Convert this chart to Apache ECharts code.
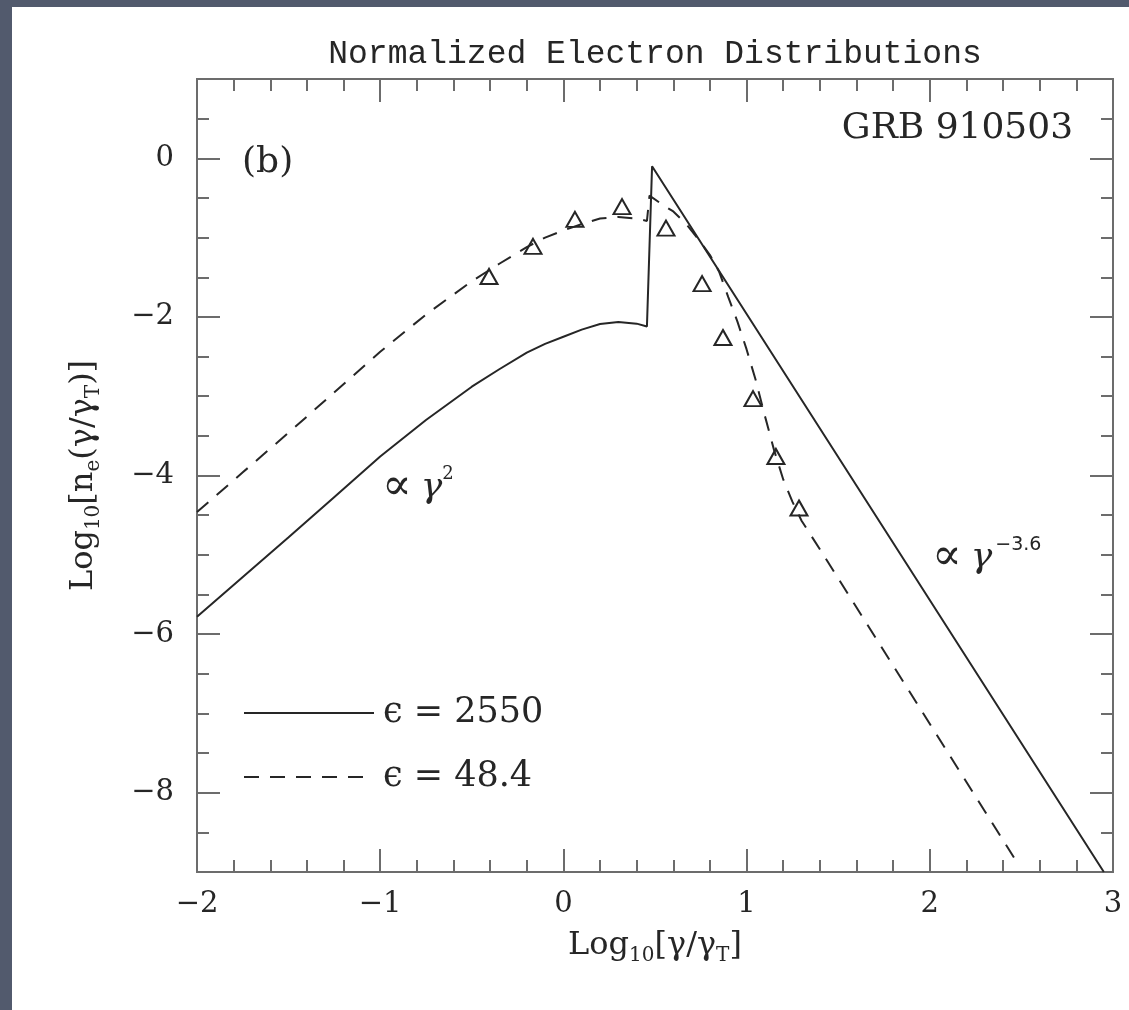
<!DOCTYPE html>
<html>
<head>
<meta charset="utf-8">
<script src="https://cdn.jsdelivr.net/npm/echarts@6/dist/echarts.min.js"></script>
<style>
  html, body { margin: 0; padding: 0; width: 1129px; height: 1010px; overflow: hidden; background: #525a6d; }
  #chart { position: absolute; left: 12px; top: 7px; width: 1117px; height: 1003px; background: #ffffff; }
</style>
</head>
<body>
<div id="chart"></div>
<script>
// ε = 2550 distribution (solid): thermal hump, jump, then power-law tail
const hotX = [-2.0, -1.75, -1.5, -1.25, -1.0, -0.75, -0.5, -0.35, -0.2, -0.1, 0.0, 0.1, 0.2, 0.3, 0.4, 0.456, 0.484, 2.95];
const hotY = [-5.78, -5.28, -4.78, -4.27, -3.76, -3.30, -2.88, -2.66, -2.45, -2.34, -2.25, -2.16, -2.09, -2.065, -2.085, -2.12, -0.10, -9.0];

// ε = 48.4 distribution (dashed)
const coolX = [-2.0, -1.75, -1.5, -1.25, -1.0, -0.75, -0.5, -0.35, -0.2, -0.1, 0.0, 0.1, 0.2, 0.3, 0.4, 0.456,
               0.47, 0.544, 0.6, 0.675, 0.75, 0.8, 0.85, 0.9, 0.95, 1.0, 1.05, 1.1, 1.15, 1.2, 1.25, 1.3, 1.4, 2.46];
const coolY = [-4.46, -3.96, -3.46, -2.95, -2.44, -1.97, -1.55, -1.33, -1.12, -1.00, -0.91, -0.83, -0.76, -0.74, -0.76, -0.79,
               -0.47, -0.59, -0.67, -0.84, -1.06, -1.22, -1.43, -1.75, -2.06, -2.41, -2.80, -3.25, -3.68, -4.05, -4.33, -4.57, -4.93, -8.82];

// observed points (open triangles)
const obsX = [-0.406, -0.166, 0.063, 0.32, 0.56, 0.757, 0.871, 1.035, 1.16, 1.286];
const obsY = [-1.49, -1.11, -0.77, -0.61, -0.88, -1.58, -2.26, -3.03, -3.76, -4.41];

// axis ticks
const xMajor = [-2, -1, 0, 1, 2, 3];
const yMajor = [-8, -6, -4, -2, 0];

const seriesNames = ['\u03F5 = 2550', '\u03F5 = 48.4'];

const FONT = '"DejaVu Serif", "Liberation Serif", serif';
const TITLE_FONT = '"Liberation Mono", "DejaVu Sans Mono", monospace';
const INK = '#262626';
const FRAME = '#6c6c6c';

const zip = (xs, ys) => xs.map((x, i) => [x, ys[i]]);
const minus = v => String(v).replace('-', '\u2212');

const frameLine = { show: true, onZero: false, lineStyle: { color: FRAME, width: 2 } };
const tickStyle = { color: FRAME, width: 2 };
const labelStyle = { color: INK, fontFamily: FONT, fontSize: 29, formatter: minus };

const subRich = {
  s: { fontFamily: FONT, fontSize: 20, lineHeight: 20, verticalAlign: 'bottom', color: INK }
};

function xAxisAt(position, withLabels) {
  return {
    type: 'value', min: -2, max: 3, interval: 1, position,
    axisLine: frameLine,
    axisTick: { inside: true, length: 23, lineStyle: tickStyle },
    minorTick: { show: true, splitNumber: 5, length: 12, lineStyle: tickStyle },
    splitLine: { show: false },
    axisLabel: withLabels ? Object.assign({ margin: 18 }, labelStyle) : { show: false }
  };
}

function yMinorAt(position) {
  return {
    type: 'value', min: -9, max: 1, interval: 0.5, position,
    axisLine: frameLine,
    axisTick: { inside: true, length: 12, lineStyle: tickStyle },
    splitLine: { show: false },
    axisLabel: { show: false }
  };
}

function yMajorAt(position, withLabels) {
  return {
    type: 'value', min: -9, max: 1, interval: 1, position,
    axisLine: frameLine,
    axisTick: { inside: true, length: 23, customValues: yMajor, lineStyle: tickStyle },
    splitLine: { show: false },
    axisLabel: withLabels ? Object.assign({ margin: 23, customValues: yMajor }, labelStyle) : { show: false }
  };
}

// text annotations, anchored in data space
const noteRich = {
  p: { fontFamily: FONT, fontSize: 44, color: INK },
  g: { fontFamily: FONT, fontSize: 36, fontStyle: 'italic', color: INK, padding: [0, 0, 0, 9] },
  sup: { fontFamily: FONT, fontSize: 18, lineHeight: 18, verticalAlign: 'top', color: INK },
  supw: { fontFamily: '"DejaVu Sans", sans-serif', fontSize: 19, lineHeight: 18, verticalAlign: 'top', color: INK, padding: [0, 0, 0, 3] }
};
const notes = [
  { at: [-1.754, -0.05], side: 'right', text: '(b)', size: 36 },
  { at: [2.782, 0.37], side: 'left', text: 'GRB 910503', size: 36 },
  { at: [-0.99, -4.15], side: 'right', text: '{p|\u221D}{g|\u03B3}{sup|2}', size: 32 },
  { at: [2.012, -5.03], side: 'right', text: '{p|\u221D}{g|\u03B3}{supw|\u22123.6}', size: 32 }
];

const chart = echarts.init(document.getElementById('chart'), null, { renderer: 'canvas' });

chart.setOption({
  animation: false,
  backgroundColor: '#ffffff',
  title: {
    text: 'Normalized Electron Distributions',
    left: 643, top: 31, padding: 0, textAlign: 'center',
    textStyle: { fontFamily: TITLE_FONT, fontSize: 33, fontWeight: 'normal', color: INK }
  },
  grid: { left: 185, right: 16, top: 72, bottom: 138 },
  legend: {
    data: seriesNames,
    orient: 'vertical', left: 231, top: 688, padding: 0,
    itemWidth: 130, itemHeight: 14, itemGap: 28,
    selectedMode: false,
    itemStyle: { opacity: 0 },
    textStyle: { fontFamily: FONT, fontSize: 35, lineHeight: 36, color: INK, padding: [0, 0, 0, 4] }
  },
  xAxis: [
    Object.assign(xAxisAt('bottom', true), {
      name: 'Log{s|10}[\u03B3/\u03B3{s|T}]',
      nameLocation: 'middle', nameGap: 54,
      nameTextStyle: { fontFamily: FONT, fontSize: 32, lineHeight: 40, color: INK, rich: subRich }
    }),
    xAxisAt('top', false)
  ],
  yAxis: [
    yMinorAt('left'),
    Object.assign(yMajorAt('left', true), {
      name: 'Log{s|10}[n{s|e}(\u03B3/\u03B3{s|T})]',
      nameLocation: 'middle', nameGap: 93,
      nameTextStyle: { fontFamily: FONT, fontSize: 32, lineHeight: 40, color: INK, rich: subRich }
    }),
    yMinorAt('right'),
    yMajorAt('right', false)
  ],
  series: [
    {
      name: seriesNames[0], type: 'line', data: zip(hotX, hotY),
      symbol: 'none', xAxisIndex: 0, yAxisIndex: 0, clip: true,
      lineStyle: { color: INK, width: 2 }, itemStyle: { color: INK }
    },
    {
      name: seriesNames[1], type: 'line', data: zip(coolX, coolY),
      symbol: 'none', xAxisIndex: 0, yAxisIndex: 0, clip: true,
      lineStyle: { color: INK, width: 2, type: [15, 11] }, itemStyle: { color: INK }
    },
    {
      name: 'observed', type: 'scatter', data: zip(obsX, obsY),
      xAxisIndex: 0, yAxisIndex: 0,
      symbol: 'triangle', symbolSize: [17, 15],
      itemStyle: { color: 'rgba(0,0,0,0)', borderColor: INK, borderWidth: 2, opacity: 1 }
    },
    {
      name: 'notes', type: 'scatter', silent: true,
      xAxisIndex: 0, yAxisIndex: 0, symbolSize: 0,
      itemStyle: { opacity: 1 },
      data: notes.map(n => ({
        value: n.at,
        label: {
          show: true, position: n.side, distance: 0,
          formatter: n.text,
          fontFamily: FONT, fontSize: n.size, lineHeight: 44, color: INK,
          rich: noteRich
        }
      }))
    }
  ]
});
</script>
</body>
</html>
